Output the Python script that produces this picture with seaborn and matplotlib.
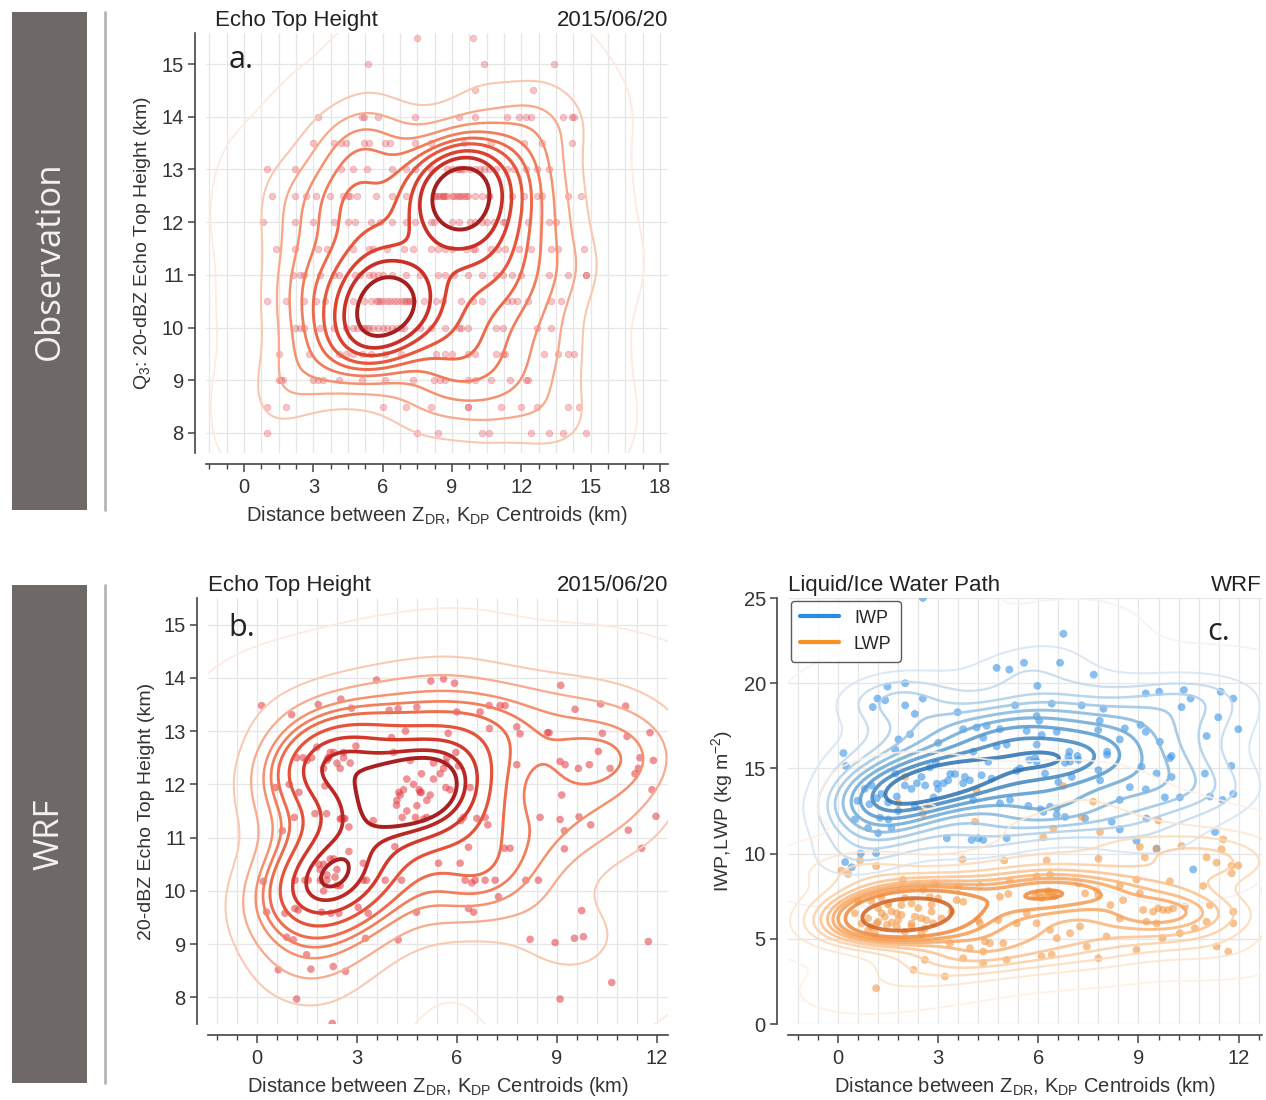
import numpy as np
import pandas as pd
import matplotlib
matplotlib.use("Agg")
import matplotlib.pyplot as plt
import seaborn as sns
from matplotlib.patches import Rectangle
from matplotlib.lines import Line2D
from matplotlib.ticker import MultipleLocator
from matplotlib.colors import LinearSegmentedColormap

# ---------------- DATA ----------------
# Panel a (Observation): echo-top heights are quantised at 0.5 km rows
obs_row_heights = [15.5, 15.0, 14.5, 14.0, 13.5, 13.0, 12.5, 12.0, 11.5, 11.0, 10.5, 10.0, 9.5, 9.0, 8.5, 8.0]
obs_x_155 = [7.5, 9.9]
obs_x_150 = [5.35, 10.4, 13.4]
obs_x_145 = [10.0, 12.5]
obs_x_140 = [3.2, 5.1, 5.2, 5.8, 7.4, 9.3, 10.0, 11.4, 11.9, 12.2, 12.4, 13.8, 14.2, 14.3]
obs_x_135 = [3.0, 3.9, 4.2, 4.4, 5.2, 5.4, 6.1, 6.3, 7.4, 8.1, 9.5, 10.7, 12.1, 12.9, 14.2]
obs_x_130 = [1.0, 2.2, 4.2, 4.7, 5.3, 6.4, 7.0, 7.4, 8.1, 8.8, 9.0, 9.2, 9.3, 9.4, 9.5, 9.8, 10.0,
             10.2, 10.4, 10.6, 10.9, 11.4, 11.7, 12.2, 12.7, 13.2]
obs_x_125 = [1.2, 2.2, 2.7, 3.1, 3.7, 4.3, 4.5, 4.6, 4.9, 5.7, 6.4, 7.0, 8.2, 8.3, 8.4, 8.5, 8.6, 8.6,
             8.7, 8.8, 9.0, 9.1, 9.2, 9.3, 9.4, 9.5, 9.6, 9.7, 10.0, 10.3, 10.6, 10.6, 11.6, 12.1, 12.7,
             12.9, 14.0, 14.6]
obs_x_120 = [0.8, 2.2, 3.0, 3.9, 4.5, 4.8, 5.5, 5.9, 6.4, 7.0, 7.4, 8.1, 8.2, 9.0, 9.3, 9.8, 10.0, 10.3,
             10.5, 10.8, 11.2, 11.3, 12.3, 13.2, 13.5]
obs_x_115 = [1.4, 2.2, 3.2, 3.6, 4.7, 5.4, 5.6, 6.2, 6.9, 7.3, 8.1, 8.4, 8.7, 9.0, 9.6, 9.9, 10.0, 10.7,
             11.0, 11.3, 11.9, 12.4, 13.3, 13.6, 14.7]
obs_x_110 = [2.1, 2.4, 2.6, 3.3, 3.9, 4.1, 4.8, 5.0, 5.4, 5.6, 5.8, 6.0, 6.4, 7.0, 7.6, 8.4, 8.7, 9.1,
             9.7, 10.3, 10.9, 11.2, 11.6, 12.0, 13.2, 14.0, 14.8, 14.8]
obs_x_105 = [1.0, 1.8, 2.6, 3.1, 3.5, 4.7, 5.2, 5.5, 5.7, 5.8, 5.9, 6.0, 6.2, 6.3, 6.5, 6.6, 6.8, 6.9,
             7.0, 7.1, 7.2, 7.3, 7.8, 8.3, 8.6, 9.4, 9.9, 10.3, 11.4, 11.6, 11.8, 12.3, 13.3, 13.7]
obs_x_100 = [2.2, 2.4, 2.6, 3.3, 3.9, 4.4, 4.7, 4.9, 5.1, 5.2, 5.3, 5.4, 5.6, 5.8, 6.0, 6.2, 6.4, 6.6,
             6.8, 6.9, 7.6, 8.1, 8.7, 9.3, 9.4, 9.7, 10.9, 11.2, 12.7, 13.3]
obs_x_095 = [1.5, 2.8, 4.1, 4.4, 4.7, 5.1, 5.5, 6.1, 6.8, 8.3, 8.7, 9.0, 9.7, 10.0, 10.9, 11.2, 11.3,
             13.0, 13.6, 14.0, 14.3]
obs_x_090 = [1.5, 1.6, 1.7, 3.0, 3.2, 3.4, 4.1, 5.1, 6.1, 7.3, 8.2, 8.5, 8.7, 9.7, 10.0, 10.7, 11.5, 12.2, 12.3]
obs_x_085 = [1.0, 1.8, 6.0, 7.0, 8.1, 9.7, 9.7, 11.1, 12.0, 12.7, 14.0, 14.5]
obs_x_080 = [1.0, 7.5, 8.4, 10.3, 10.6, 12.4, 13.2, 13.8, 14.8]
obs_x_rows = [obs_x_155, obs_x_150, obs_x_145, obs_x_140, obs_x_135, obs_x_130, obs_x_125, obs_x_120,
              obs_x_115, obs_x_110, obs_x_105, obs_x_100, obs_x_095, obs_x_090, obs_x_085, obs_x_080]

# Panel b (WRF echo top height)
wrf_x = [0.14, 1.04, 1.84, 2.52, 2.84, 3.59, 5.22, 5.6, 5.93, 3.97, 4.24, 4.8, 6.0, 6.7, 6.97, 7.3, 7.45,
         9.12, 9.55, 10.32, 11.07, 11.8, 11.11, 10.37, 8.72, 8.77, 7.8, 7.9, 6.98, 5.74, 4.46, 4.04, 2.97,
         2.14, 1.19, 1.39, 1.64, 4.1, 4.6, 4.94, 5.67, 5.7, 5.97, 6.05, 7.8, 9.1, 9.25, 9.65, 9.98, 10.25,
         10.6, 11.5, 11.45, 11.35, 11.9, 11.86, 9.15, 0.56, 0.97, 1.26, 2.04, 4.26, 4.4, 4.87, 4.93, 5.67,
         6.4, 4.2,
         2.1, 2.15, 1.5, 2.5, 2.6, 1.85, 2.0, 1.9, 2.3, 5.0, 4.9, 5.6,
         2.3, 2.5, 1.8, 2.6, 4.7, 5.3, 5.1, 4.5, 2.1, 2.4, 1.9,
         2.2, 2.4, 2.6, 2.0, 2.8, 4.5, 5.2, 5.5, 4.8, 5.8, 5.3, 4.3, 2.1, 2.4, 2.0, 2.5, 2.2,
         4.19, 3.49, 4.36, 4.76, 5.1, 1.12, 1.74, 2.09, 2.54, 2.64, 2.76, 0.76, 6.12, 6.2, 6.6, 6.85, 6.93,
         8.5, 9.1, 9.23, 9.67, 10.02, 11.15, 11.55, 9.23, 7.6, 7.43, 6.35, 5.45, 6.1, 4.14, 2.76, 3.19, 2.34,
         0.19, 1.14, 1.44, 1.54, 3.19, 3.29, 3.85, 4.34, 6.25, 6.45, 6.55, 6.85, 7.15, 8.07, 8.45, 7.25,
         9.75, 0.29, 0.84, 1.14, 1.24, 1.94, 2.22, 2.46, 3.04, 3.34, 4.79, 6.35, 6.5, 0.89, 1.09, 3.26,
         4.24, 8.2, 8.95, 9.53, 9.8, 11.75, 1.49, 0.64, 1.62, 2.29, 2.66, 10.65, 1.19, 9.1, 2.26, 11.98]
wrf_y = [13.48, 13.31, 13.5, 13.6, 13.43, 13.96, 13.94, 13.98, 13.9, 13.39, 13.42, 13.45, 13.36, 13.36,
         13.48, 13.48, 13.48, 13.86, 13.41, 13.51, 13.47, 12.97, 12.9, 12.96, 12.97, 12.97, 13.08, 12.95,
         13.05, 12.96, 13.0, 12.88, 12.72, 12.5, 12.5, 12.5, 12.5, 12.6, 12.45, 12.2, 12.4, 12.5, 12.6,
         12.35, 12.37, 12.43, 12.37, 12.3, 12.37, 12.62, 12.3, 12.5, 12.3, 12.2, 12.45, 11.9, 11.8, 11.94,
         12.0, 11.85, 11.97, 11.85, 11.9, 11.9, 11.85, 11.94, 11.94, 11.7,
         12.45, 12.5, 12.45, 11.35, 11.35, 10.5, 10.5, 10.2, 10.6, 11.35, 11.85, 12.3,
         12.6, 12.3, 12.7, 12.5, 12.0, 12.1, 11.7, 11.5, 10.3, 10.1, 10.4,
         12.6, 12.4, 12.6, 12.3, 12.4, 12.1, 11.8, 12.2, 11.6, 11.9, 12.4, 11.8, 10.2, 10.4, 10.0, 10.1, 10.6,
         11.61, 11.32, 11.38, 11.38, 11.38, 11.38, 11.45, 11.45, 11.36, 11.36, 11.2, 11.13, 11.32, 11.38,
         11.36, 11.38, 11.24, 11.38, 11.34, 11.13, 11.39, 11.24, 11.14, 10.8, 10.79, 10.8, 10.8, 10.82,
         10.52, 10.52, 10.83, 10.74, 10.52, 10.26, 10.18, 10.2, 10.2, 10.2, 10.2, 10.2, 10.2, 10.2, 10.2,
         10.15, 10.2, 10.2, 10.2, 10.2, 10.2, 9.89, 9.63, 9.6, 9.58, 9.67, 9.64, 9.6, 9.58, 9.58, 9.69,
         9.58, 9.6, 9.67, 9.6, 9.13, 9.08, 9.11, 9.08, 9.09, 9.03, 9.11, 9.14, 9.05, 8.8, 8.52, 8.53, 8.58,
         8.49, 8.28, 7.97, 7.97, 7.51, 11.4]

# Panel c (WRF ice / liquid water path)
iwp_x = [2.54, 6.75, 4.75, 5.13, 5.57, 6.65, 7.66, 5.97, 1.48, 2.01, 1.18, 1.41, 1.04, 2.54, 2.01, 2.3,
         5.3, 6.4, 7.3, 7.95, 9.22, 9.62, 10.36, 10.56, 10.29, 11.46, 11.84, 11.39, 11.99, 11.04, 3.58,
         5.95, 6.03, 7.84, 8.59, 9.06, 9.22, 8.44, 9.64, 9.99, 7.79, 8.06, 3.75, 4.15, 4.45, 4.85, 4.35,
         5.65, 6.1, 6.55, 6.93, 7.17, 5.95, 5.05, 4.75, 4.05, 0.16, 1.81, 2.16, 3.0, 1.71,
         0.24, 5.73, 5.95, 6.9, 7.2, 8.06, 9.94, 11.78, 10.99, 2.75, 2.93, 4.5, 5.35, 5.45, 6.8, 6.95, 7.8,
         7.85, 9.09, 9.54, 9.99, 8.74, 9.22, 8.44, 9.79, 10.24, 11.14, 11.52, 11.84, 11.29,
         1.71, 2.36, 2.61, 2.96, 3.16, 3.36, 3.5, 3.75, 3.95, 2.86, 1.76, 1.16, 0.58, 0.94, 1.26, 1.51,
         4.05, 4.85, 5.15, 5.7, 6.07, 6.35, 6.55, 6.55, 6.15, 7.4, 8.2, 8.44, 8.94, 9.54, 10.64, 9.24, 6.8,
         0.68, 0.21, 0.41, 1.14, 3.26, 4.0, 4.2, 4.35, 5.05,
         1.3, 1.5, 2.0, 2.2, 3.0, 3.3, 2.5, 1.0, 0.8, 1.8, 2.3, 3.8, 4.3, 4.6, 1.2, 1.6, 0.5, 0.9, 5.9,
         6.2, 6.6, 7.0]
iwp_y = [25.0, 22.9, 20.9, 20.8, 21.2, 21.2, 20.5, 19.84, 19.8, 20.0, 19.1, 19.0, 18.6, 19.1, 18.7, 18.2,
         18.7, 18.8, 18.7, 18.5, 19.4, 19.5, 19.6, 19.1, 18.6, 19.5, 19.1, 18.0, 17.3, 16.9, 18.3,
         18.07, 17.8, 17.8, 17.35, 17.55, 17.15, 16.7, 16.56, 15.73, 17.25, 15.98, 17.3, 17.4, 17.5, 17.3,
         16.8, 17.2, 16.96, 17.15, 15.98, 15.73, 16.4, 16.4, 16.3, 15.98, 15.9, 16.7, 17.0, 16.5, 16.1,
         15.14, 15.5, 15.4, 15.7, 15.5, 15.8, 15.6, 15.15, 14.7, 15.06, 15.33, 15.39, 14.86, 15.0, 15.33,
         15.4, 14.9, 14.3, 15.1, 14.7, 14.5, 13.9, 13.77, 13.15, 13.3, 13.3, 13.35, 13.15, 13.5, 11.27,
         14.7, 14.13, 14.0, 14.1, 14.13, 14.67, 14.67, 14.13, 14.3, 13.3, 13.35, 13.25, 13.1, 12.9, 12.1,
         12.0, 13.15, 12.95, 13.15, 12.8, 12.6, 12.75, 12.66, 12.27, 12.45, 12.06, 11.87, 11.42, 10.76,
         10.3, 9.07, 12.06, 12.15,
         10.0, 9.5, 9.2, 10.03, 10.9, 10.8, 10.9, 10.8, 10.9,
         13.5, 13.0, 14.0, 13.8, 13.8, 14.3, 14.5, 14.0, 13.8, 12.5, 12.8, 14.5, 14.6, 14.4, 11.2, 11.5,
         12.0, 11.5, 15.6, 14.7, 14.2, 14.5]
lwp_x = [1.51, 1.31, 1.76, 1.16, 1.46, 1.61, 1.76, 2.2, 1.9, 2.2, 2.56, 2.75, 2.8, 2.65, 2.85, 3.0, 3.55,
         3.75, 4.2, 4.25, 4.85, 5.1, 4.8, 5.35, 5.65, 6.0, 6.45, 6.5, 5.95, 6.35, 6.55, 6.95, 7.25, 7.4,
         7.8, 8.16, 8.44, 8.54, 9.04, 9.14, 9.44, 9.59, 9.74, 9.89, 10.04, 9.24, 9.54, 10.39, 11.14, 11.84,
         11.84, 11.04, 10.69, 10.24, 9.72, 8.94, 11.34, 11.69, 7.45, 7.8, 6.4, 6.1, 5.05, 4.35, 4.35, 3.95,
         3.75, 3.35, 2.6, 2.26, 3.2, 1.14, 4.95, 4.55, 4.4, 8.04,
         2.01, 1.81, 4.15, 4.1, 2.54, 6.75, 7.64, 7.3, 7.85, 6.15, 6.45, 11.54, 11.49, 11.04, 9.19, 10.29,
         9.54, 11.34, 11.79, 11.99, 11.79, 3.73, 4.98, 6.25, 7.8, 9.04, 9.59, 1.14, 0.66, 1.94, 2.9, 3.6,
         4.25, 5.15, 5.95, 6.35, 7.2, 7.75, 8.44, 8.94, 9.94, 10.94,
         0.9, 1.0, 1.2, 1.4, 1.6, 1.8, 2.0, 2.3, 2.4, 1.1, 0.7, 1.3, 2.0, 2.6, 3.1, 3.4, 0.5, 0.3, 0.1,
         0.6, 6.1, 6.3, 6.2, 5.9,
         6.4, 6.3, 1.2, 1.9, 2.5, 1.5, 2.2, 1.0, 2.8, 0.9, 2.5]
lwp_y = [7.08, 6.5, 6.5, 5.91, 5.81, 5.95, 5.72, 5.72, 6.98, 7.08, 7.86, 7.47, 6.59, 6.1, 5.91, 7.37,
         7.27, 7.17, 6.1, 5.91, 7.47, 7.63, 6.1, 5.91, 6.5, 7.67, 7.63, 7.51, 5.91, 5.52, 5.04, 5.33, 5.72,
         7.67, 7.57, 6.98, 6.2, 7.27, 7.67, 6.69, 6.59, 6.79, 6.69, 6.69, 6.79, 6.0, 5.91, 6.89, 6.98,
         6.59, 5.91, 6.0, 5.62, 5.33, 5.04, 4.35, 4.55, 4.25, 4.55, 3.86, 4.06, 3.96, 3.76, 3.57, 4.25,
         4.45, 3.86, 4.74, 3.76, 3.18, 2.79, 2.1, 4.74, 4.74, 4.84, 5.14,
         14.5, 12.95, 13.7, 11.87, 12.35, 13.96, 13.05, 12.15, 11.27, 10.95, 11.47, 10.83, 10.25, 9.78,
         9.78, 10.45, 10.25, 9.47, 9.3, 9.3, 8.85, 9.66, 9.6, 9.6, 9.7, 10.4, 11.95, 9.27, 9.6, 8.47, 8.26,
         8.04, 8.1, 8.37, 8.66, 8.76, 8.26, 7.88, 8.1, 8.47, 8.37, 8.1,
         6.2, 5.7, 6.8, 6.3, 6.6, 6.1, 5.4, 6.3, 6.8, 5.3, 5.9, 7.4, 7.4, 5.6, 6.2, 6.6, 6.5, 8.8, 9.0,
         7.2, 7.4, 7.7, 7.6, 7.5,
         7.5, 7.8, 6.0, 6.4, 6.2, 7.0, 5.9, 7.2, 7.0, 5.5, 5.3]

# ---------------- TABLES ----------------
obs_df = pd.DataFrame({
    "x": [v for row in obs_x_rows for v in row],
    "y": [h for h, row in zip(obs_row_heights, obs_x_rows) for _ in row],
})
wrf_df = pd.DataFrame({"x": wrf_x, "y": wrf_y})
iwp_df = pd.DataFrame({"x": iwp_x, "y": iwp_y})
lwp_df = pd.DataFrame({"x": lwp_x, "y": lwp_y})

# ---------------- STYLE ----------------
sns.set_theme(style="white")
plt.rcParams["font.family"] = ["Liberation Sans", "DejaVu Sans"]
plt.rcParams["mathtext.fontset"] = "custom"
plt.rcParams["mathtext.rm"] = "Liberation Sans"
plt.rcParams["mathtext.it"] = "Liberation Sans:italic"
plt.rcParams["mathtext.bf"] = "Liberation Sans:bold"
TXT = "#333333"
GRID = "#e6e6e6"

red_cmap = LinearSegmentedColormap.from_list(
    "red_c", ["#fdeae2", "#f9c4ac", "#f59a78", "#ef7150", "#e24a33", "#c52c25", "#9c1b1d", "#6a0f13"])
blue_cmap = LinearSegmentedColormap.from_list(
    "blue_c", ["#eef4fa", "#cfe1f1", "#a6cbe6", "#75afd8", "#4a90c8", "#2c72b0", "#1a4f86"])
orange_cmap = LinearSegmentedColormap.from_list(
    "orange_c", ["#fef0e3", "#fcd6b0", "#fab273", "#f28f3f", "#e06d23", "#b94f1b", "#843816"])

W, H = 1266, 1100
fig = plt.figure(figsize=(W / 100, H / 100), dpi=100)


def box(x0, y0, x1, y1):
    return [x0 / W, 1 - y1 / H, (x1 - x0) / W, (y1 - y0) / H]


ax_a = fig.add_axes(box(206, 33, 668, 453))
ax_b = fig.add_axes(box(208, 598, 668, 1024))
ax_c = fig.add_axes(box(788, 598, 1262, 1024))

NLEV = 11
lw_list = list(np.linspace(1.3, 3.0, NLEV))

xlabel = r"Distance between Z$_{\mathrm{DR}}$, K$_{\mathrm{DP}}$ Centroids (km)"


def style_axes(ax, xlim, ylim, xmajor, xminor, ymajor, ylabel):
    ax.set_xlim(*xlim)
    ax.set_ylim(*ylim)
    ax.xaxis.set_major_locator(MultipleLocator(xmajor))
    ax.xaxis.set_minor_locator(MultipleLocator(xminor))
    ax.yaxis.set_major_locator(MultipleLocator(ymajor))
    ax.set_axisbelow(True)
    ax.grid(False)
    ax.grid(True, which="minor", axis="x", color=GRID, lw=0.9)
    ax.grid(True, which="major", axis="x", color=GRID, lw=0.9)
    ax.grid(True, which="major", axis="y", color=GRID, lw=0.9)
    sns.despine(ax=ax, offset={"left": 8, "bottom": 8})
    for s in ("left", "bottom"):
        ax.spines[s].set_color("#444444")
        ax.spines[s].set_linewidth(1.2)
    ax.tick_params(axis="x", which="major", direction="out", length=6, width=1.1,
                   color="#444444", labelsize=14.5, labelcolor=TXT, pad=4, bottom=True)
    ax.tick_params(axis="x", which="minor", direction="out", length=3.5, width=1.0,
                   color="#444444", bottom=True)
    ax.tick_params(axis="y", which="major", direction="out", length=5, width=1.1,
                   color="#444444", labelsize=14.5, labelcolor=TXT, pad=3, left=True)
    ax.set_xlabel(xlabel, fontsize=14.5, color=TXT, labelpad=5)
    ax.set_ylabel(ylabel, fontsize=14, color=TXT, labelpad=6)
    ax.set_facecolor("white")


# ---- panel a ----
sns.kdeplot(data=obs_df, x="x", y="y", ax=ax_a, levels=NLEV, thresh=0.005, cmap=red_cmap,
            linewidths=lw_list, bw_adjust=0.9)
sns.scatterplot(data=obs_df, x="x", y="y", ax=ax_a, color="#e5414b", alpha=0.3, s=22,
                edgecolor="#e5414b", linewidth=0.6)
style_axes(ax_a, (-1.65, 18.35), (7.62, 15.59), 3, 0.75, 1,
           r"Q$_3$: 20-dBZ Echo Top Height (km)")
ax_a.set_title("Echo Top Height", loc="left", fontsize=16, color="#222222", pad=5, x=0.02)
ax_a.set_title("2015/06/20", loc="right", fontsize=16, color="#222222", pad=5)
ax_a.text(0.05, 0.935, "a.", transform=ax_a.transAxes, fontsize=22, color="#222222",
          family=["Open Sans", "DejaVu Sans"], va="center", ha="left")

# ---- panel b ----
sns.kdeplot(data=wrf_df, x="x", y="y", ax=ax_b, levels=NLEV, thresh=0.005, cmap=red_cmap,
            linewidths=lw_list, bw_adjust=1.0)
sns.scatterplot(data=wrf_df, x="x", y="y", ax=ax_b, color="#e53a42", alpha=0.55, s=30,
                edgecolor="none")
style_axes(ax_b, (-1.47, 12.34), (7.5, 15.5), 3, 0.6, 1, "20-dBZ Echo Top Height (km)")
ax_b.set_title("Echo Top Height", loc="left", fontsize=16, color="#222222", pad=5)
ax_b.set_title("2015/06/20", loc="right", fontsize=16, color="#222222", pad=5)
ax_b.text(0.045, 0.93, "b.", transform=ax_b.transAxes, fontsize=22, color="#222222",
          family=["Open Sans", "DejaVu Sans"], va="center", ha="left")

# ---- panel c ----
sns.kdeplot(data=iwp_df, x="x", y="y", ax=ax_c, levels=NLEV, thresh=0.005, cmap=blue_cmap,
            linewidths=lw_list, bw_adjust=0.9, alpha=0.85)
sns.kdeplot(data=lwp_df, x="x", y="y", ax=ax_c, levels=NLEV, thresh=0.005, cmap=orange_cmap,
            linewidths=lw_list, bw_adjust=0.85, alpha=0.85)
sns.scatterplot(data=iwp_df, x="x", y="y", ax=ax_c, color="#3a93e8", alpha=0.6, s=32,
                edgecolor="none")
sns.scatterplot(data=lwp_df, x="x", y="y", ax=ax_c, color="#f29a45", alpha=0.6, s=32,
                edgecolor="none")
style_axes(ax_c, (-1.5, 12.7), (0, 25), 3, 0.6, 5, r"IWP,LWP (kg m$^{-2}$)")
ax_c.set_title("Liquid/Ice Water Path", loc="left", fontsize=16, color="#222222", pad=5)
ax_c.set_title("WRF", loc="right", fontsize=16, color="#222222", pad=5)
ax_c.text(0.885, 0.92, "c.", transform=ax_c.transAxes, fontsize=22, color="#222222",
          family=["Open Sans", "DejaVu Sans"], va="center", ha="left")
handles = [Line2D([], [], color="#2a8ae6", lw=3), Line2D([], [], color="#f7931e", lw=3)]
leg = ax_c.legend(handles, ["IWP", "LWP"], loc="upper left", bbox_to_anchor=(0.0, 1.0),
                  borderaxespad=0.15, fontsize=13, frameon=True, handlelength=2.2,
                  labelspacing=0.5, borderpad=0.5)
leg.get_frame().set_edgecolor("#333333")
leg.get_frame().set_linewidth(1.0)
leg.get_frame().set_facecolor("white")

# ---- side labels ----
for (y0, y1, label) in [(12, 510, "Observation"), (585, 1083, "WRF")]:
    fig.patches.append(Rectangle((12 / W, 1 - y1 / H), 75 / W, (y1 - y0) / H,
                                 transform=fig.transFigure, facecolor="#6e6867",
                                 edgecolor="none", zorder=0))
    fig.text(49.5 / W, 1 - (y0 + y1) / 2 / H, label, rotation=90, color="#f2f2f2",
             fontsize=25, ha="center", va="center",
             family=["Open Sans", "DejaVu Sans"])
    fig.lines.append(Line2D([105 / W, 105 / W], [1 - y0 / H, 1 - y1 / H],
                            transform=fig.transFigure, color="#b5b5b5", lw=2))

fig.savefig("out.png", dpi=100, facecolor="white")
